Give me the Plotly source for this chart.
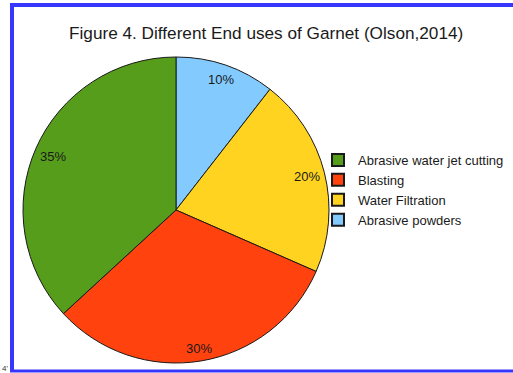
import math
import plotly.graph_objects as go

W, H = 513, 373

labels = ["Abrasive water jet cutting", "Blasting", "Water Filtration", "Abrasive powders"]
values = [35, 30, 20, 10]
colors = ["#579D1C", "#FF420E", "#FFD320", "#83CAFF"]
title = "Figure 4. Different End uses of Garnet (Olson,2014)"

def px(x):
    return x / W

def py(y):
    return (H - y) / H

# pie geometry (pixels)
cx, cy, r = 176, 210, 153

# slices run counterclockwise from 12 o'clock in the reference:
# draw clockwise with reversed order, and reverse the legend back
fig = go.Figure()
fig.add_trace(go.Pie(
    labels=labels[::-1],
    values=values[::-1],
    marker=dict(colors=colors[::-1], line=dict(color="#1a1a1a", width=1)),
    sort=False,
    direction="clockwise",
    rotation=0,
    textinfo="none",
    hoverinfo="label+value",
    domain=dict(x=[px(cx - r), px(cx + r)], y=[py(cy + r), py(cy - r)]),
    showlegend=True,
))

# value labels placed inside near the rim along each slice bisector
total = sum(values)
acc = 0
annotations = []
R0, hw, hh = 149, 13, 7
for v in values:
    mid = (acc + v / 2) / total * 2 * math.pi
    acc += v
    s, c = math.sin(mid), math.cos(mid)
    rr = R0 - (hw * abs(s) + hh * abs(c))
    lx = cx - rr * s
    ly = cy - rr * c
    annotations.append(dict(
        x=px(lx), y=py(ly), xref="paper", yref="paper",
        text=f"{v}%", showarrow=False,
        font=dict(family="Liberation Sans, Arial, sans-serif", size=13, color="#1a1a1a"),
        xanchor="center", yanchor="middle",
    ))

annotations.append(dict(
    x=px(266), y=py(33), xref="paper", yref="paper", text=title, showarrow=False,
    font=dict(family="Liberation Sans, Arial, sans-serif", size=17.2, color="#1a1a1a"),
    xanchor="center", yanchor="middle",
))
annotations.append(dict(
    x=px(0), y=py(368), xref="paper", yref="paper", text="4'", showarrow=False,
    font=dict(family="Liberation Sans, Arial, sans-serif", size=8, color="#333333"),
    xanchor="left", yanchor="middle",
))

border = "#3636FF"
shapes = [
    dict(type="line", xref="paper", yref="paper", x0=px(12), x1=px(W + 5), y0=py(5), y1=py(5),
         line=dict(color=border, width=4)),
    dict(type="line", xref="paper", yref="paper", x0=px(12), x1=px(12), y0=py(3), y1=py(372),
         line=dict(color=border, width=4)),
    dict(type="line", xref="paper", yref="paper", x0=px(10), x1=px(W + 5), y0=py(371), y1=py(371),
         line=dict(color=border, width=3)),
]

fig.update_layout(
    width=W, height=H,
    margin=dict(l=0, r=0, t=0, b=0),
    paper_bgcolor="white", plot_bgcolor="white",
    annotations=annotations,
    shapes=shapes,
    legend=dict(
        x=px(318), y=py(145), xanchor="left", yanchor="top",
        traceorder="reversed",
        font=dict(family="Liberation Sans, Arial, sans-serif", size=13, color="#1a1a1a"),
        bgcolor="rgba(0,0,0,0)", tracegroupgap=0, itemsizing="constant",
    ),
)

fig.write_html("out.html")
